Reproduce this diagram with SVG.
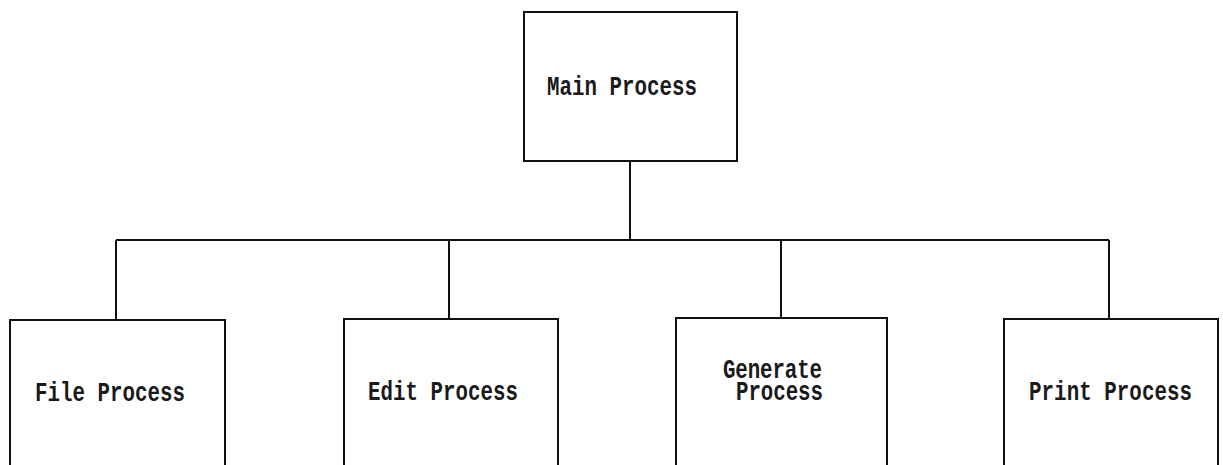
<svg xmlns="http://www.w3.org/2000/svg" width="1223" height="465" viewBox="0 0 1223 465">
<style>
.box{fill:#fff;stroke:#111;stroke-width:2}
.con{fill:none;stroke:#111;stroke-width:2}
.lbl{font-family:"Liberation Mono","DejaVu Sans Mono",monospace;font-size:20.8px;fill:#1a1a1a;font-weight:bold}
</style>
<rect width="1223" height="465" fill="#fff"/>
<g id="connectors">
<line class="con" x1="630" y1="161" x2="630" y2="240"/>
<line class="con" x1="116" y1="240" x2="1109" y2="240"/>
<line class="con" x1="116" y1="240" x2="116" y2="320"/>
<line class="con" x1="449" y1="240" x2="449" y2="319"/>
<line class="con" x1="781" y1="240" x2="781" y2="318"/>
<line class="con" x1="1109" y1="240" x2="1109" y2="319"/>
</g>
<g id="main">
<rect class="box" x="524" y="12" width="213" height="149"/>
<text class="lbl" transform="translate(547,95) scale(1,1.3)" textLength="150">Main Process</text>
</g>
<g id="file">
<path class="box" d="M10,467 V320 H225 V467"/>
<text class="lbl" transform="translate(35,401) scale(1,1.3)" textLength="150">File Process</text>
</g>
<g id="edit">
<path class="box" d="M344,467 V319 H558 V467"/>
<text class="lbl" transform="translate(368,400) scale(1,1.3)" textLength="150">Edit Process</text>
</g>
<g id="generate">
<path class="box" d="M676,467 V318 H887 V467"/>
<text class="lbl" transform="translate(723,378) scale(1,1.3)" textLength="99">Generate</text>
<text class="lbl" transform="translate(736,400) scale(1,1.3)" textLength="87">Process</text>
</g>
<g id="print">
<path class="box" d="M1004,467 V319 H1218 V467"/>
<text class="lbl" transform="translate(1029,400) scale(1,1.3)" textLength="163">Print Process</text>
</g>
</svg>
